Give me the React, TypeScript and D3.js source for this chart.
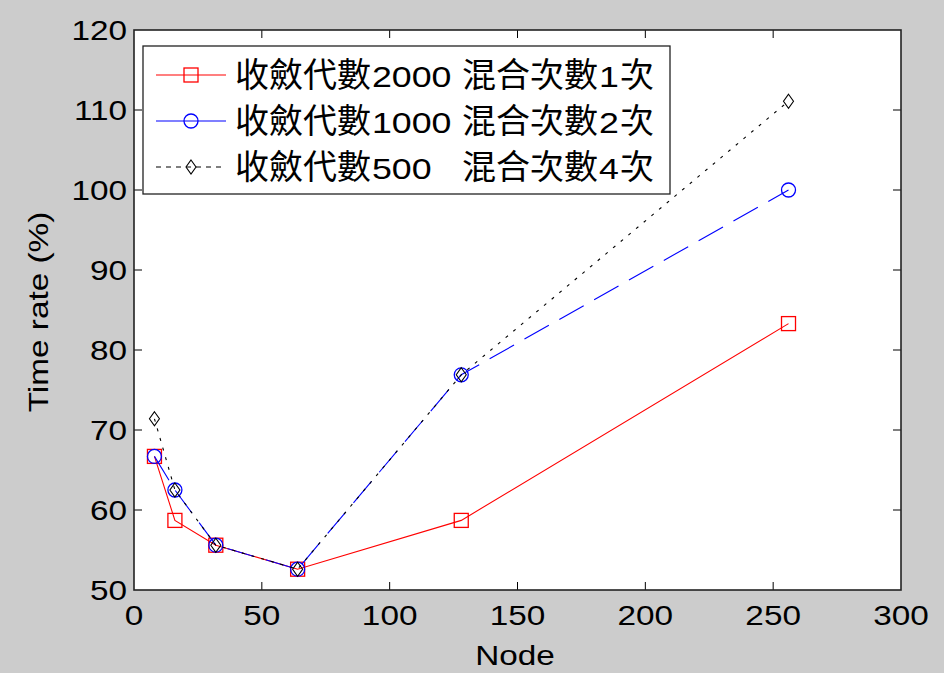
import React from 'react';
import * as d3 from 'd3';

// data
const nodes = [8, 16, 32, 64, 128, 256];
const red2000 = [66.7, 58.7, 55.6, 52.6, 58.7, 83.3];
const blue1000 = [66.7, 62.5, 55.6, 52.6, 76.9, 100];
const black500 = [71.4, 62.5, 55.6, 52.6, 76.9, 111.1];
const xTicks = [0, 50, 100, 150, 200, 250, 300];
const yTicks = [50, 60, 70, 80, 90, 100, 110, 120];
const legendCjk = '收斂代數';
const legendNum = ['2000', '1000', '500'];
const legendMix = ['混合次數', '混合次數', '混合次數'];
const legendTimes = ['1', '2', '4'];

const W = 944, H = 673;
const m = { left: 134, top: 30, right: 901, bottom: 590 };
const latin = '"Liberation Sans", Arial, sans-serif';
const cjk = '"Noto Sans CJK TC", "Noto Sans CJK SC", sans-serif';
const stretch = 1.19;

// MATLAB export looks horizontally stretched, so widen latin text a bit
const WideText = ({ x, y, anchor = 'start', size = 28, children }) => (
  <text transform={`translate(${x},${y}) scale(${stretch},1)`} textAnchor={anchor} fontFamily={latin} fontSize={size} fill="#000">
    {children}
  </text>
);

const App = () => {
  const x = d3.scaleLinear().domain([0, 300]).range([m.left, m.right]);
  const y = d3.scaleLinear().domain([50, 120]).range([m.bottom, m.top]);

  const line = d3.line<number>().x((d, i) => x(nodes[i])).y((d) => y(d));

  const series = [
    { vals: red2000, color: '#ff0000', dash: 'none', marker: 'square' },
    { vals: blue1000, color: '#0000ff', dash: '28,12', marker: 'circle' },
    { vals: black500, color: '#000000', dash: '3,7', marker: 'diamond' },
  ];

  const marker = (kind, cx, cy, color, key) => {
    if (kind == 'square')
      return <rect key={key} x={cx - 7} y={cy - 7} width={14} height={14} fill="none" stroke={color} strokeWidth={1.3} />;
    if (kind == 'circle')
      return <circle key={key} cx={cx} cy={cy} r={7} fill="none" stroke={color} strokeWidth={1.3} />;
    return <path key={key} d={`M${cx},${cy - 7}L${cx + 5},${cy}L${cx},${cy + 7}L${cx - 5},${cy}Z`} fill="none" stroke={color} strokeWidth={1.1} />;
  };

  const tickLen = 8;

  return (
    <svg width={W} height={H} style={{ display: 'block', position: 'absolute', left: 0, top: 0 }}>
      <rect x={0} y={0} width={W} height={H} fill="#cccccc" />
      <rect x={m.left} y={m.top} width={m.right - m.left} height={m.bottom - m.top} fill="#ffffff" />

      {/* ticks on all four sides */}
      {xTicks.slice(1, -1).map((t) => (
        <g key={'xt' + t} stroke="#000" strokeWidth={1}>
          <line x1={x(t)} x2={x(t)} y1={m.bottom} y2={m.bottom - tickLen} />
          <line x1={x(t)} x2={x(t)} y1={m.top} y2={m.top + tickLen} />
        </g>
      ))}
      {yTicks.slice(1, -1).map((t) => (
        <g key={'yt' + t} stroke="#000" strokeWidth={1}>
          <line x1={m.left} x2={m.left + tickLen} y1={y(t)} y2={y(t)} />
          <line x1={m.right} x2={m.right - tickLen} y1={y(t)} y2={y(t)} />
        </g>
      ))}

      {series.map((s, si) => (
        <g key={'s' + si}>
          <path d={line(s.vals)} fill="none" stroke={s.color} strokeWidth={1.1} strokeDasharray={s.dash} />
          {s.vals.map((v, i) => marker(s.marker, x(nodes[i]), y(v), s.color, si + '-' + i))}
        </g>
      ))}

      <rect x={m.left} y={m.top} width={m.right - m.left} height={m.bottom - m.top} fill="none" stroke="#222" strokeWidth={1.6} />

      {/* tick labels */}
      {xTicks.map((t) => (
        <WideText key={'xl' + t} x={x(t)} y={625} anchor="middle">{t}</WideText>
      ))}
      {yTicks.map((t) => (
        <WideText key={'yl' + t} x={127} y={y(t) + 10} anchor="end">{t}</WideText>
      ))}

      <WideText x={515} y={665} anchor="middle">Node</WideText>
      <text transform={`translate(48,312) rotate(-90) scale(${stretch},1)`} textAnchor="middle" fontFamily={latin} fontSize={28} fill="#000">Time rate (%)</text>

      {/* legend */}
      <rect x={143} y={46} width={527} height={148} fill="#fff" stroke="#222" strokeWidth={1.3} />
      {series.map((s, i) => {
        const cy = 75 + i * 46;
        return (
          <g key={'lg' + i}>
            <line x1={156} x2={226} y1={cy} y2={cy} stroke={s.color} strokeWidth={1.2} strokeDasharray={s.dash == '3,7' ? '5,5' : 'none'} />
            {marker(s.marker, 191, cy, s.color, 'lm' + i)}
            <text x={235} y={cy + 12} fontFamily={cjk} fontSize={34} fill="#000">{legendCjk}</text>
            <WideText x={372} y={cy + 12} size={30}>{legendNum[i]}</WideText>
            <text x={462} y={cy + 12} fontFamily={cjk} fontSize={34} fill="#000">{legendMix[i]}</text>
            <WideText x={599} y={cy + 12} size={30}>{legendTimes[i]}</WideText>
            <text x={620} y={cy + 12} fontFamily={cjk} fontSize={34} fill="#000">次</text>
          </g>
        );
      })}
    </svg>
  );
};

export default App;
